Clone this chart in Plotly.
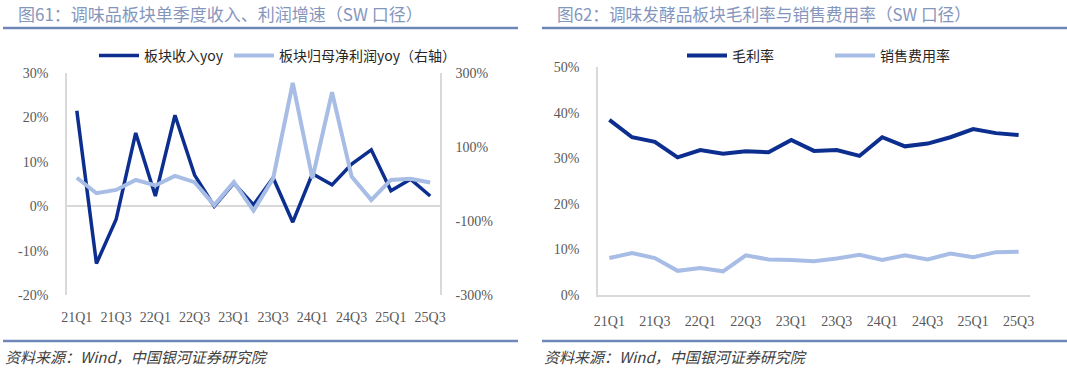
import plotly.graph_objects as go

quarters = ["21Q1", "21Q2", "21Q3", "21Q4", "22Q1", "22Q2", "22Q3", "22Q4",
            "23Q1", "23Q2", "23Q3", "23Q4", "24Q1", "24Q2", "24Q3", "24Q4",
            "25Q1", "25Q2", "25Q3"]
tick_labels = ["21Q1", "21Q3", "22Q1", "22Q3", "23Q1", "23Q3", "24Q1", "24Q3", "25Q1", "25Q3"]
left_ticks = [-20, -10, 0, 10, 20, 30]
left_tick_text = ["-20%", "-10%", "0%", "10%", "20%", "30%"]
right_ticks = [-300, -100, 100, 300]
right_tick_text = ["-300%", "-100%", "100%", "300%"]

# Figure 61: revenue yoy (left axis, %) and net profit yoy (right axis, %)
revenue_yoy = [21.5, -12.9, -3.0, 16.5, 2.3, 20.5, 7.0, 0.0, 5.2, 0.3,
               6.4, -3.6, 7.3, 4.8, 9.5, 12.7, 3.5, 6.1, 2.3]
profit_yoy = [17, -25, -16, 11, -4, 22, 5, -57, 5, -72,
              15, 273, 15, 248, 20, -43, 11, 14, 4]

# Figure 62: gross margin and selling expense ratio (%)
gross_margin = [38.4, 34.6, 33.6, 30.2, 31.8, 31.0, 31.5, 31.3, 34.0, 31.6,
                31.8, 30.5, 34.6, 32.6, 33.2, 34.6, 36.4, 35.5, 35.1]
selling_ratio = [8.1, 9.2, 8.1, 5.3, 5.9, 5.2, 8.7, 7.8, 7.7, 7.4,
                 8.0, 8.8, 7.7, 8.7, 7.8, 9.1, 8.3, 9.4, 9.5]

DARK = "#0c2e8e"
LIGHT = "#a8bde6"
AXIS = "#d9d9d9"
TICK = "#595959"
SEP = "#6f87b8"
W, H = 1067, 372

NUM_FONT = "Liberation Serif, Noto Sans CJK SC, serif"
CJK_FONT = "Noto Sans CJK SC, Liberation Serif, sans-serif"

fig = go.Figure()

fig.add_trace(go.Scatter(x=quarters, y=revenue_yoy, name="板块收入yoy", mode="lines",
                         line=dict(color=DARK, width=3.5), xaxis="x", yaxis="y",
                         legend="legend"))
fig.add_trace(go.Scatter(x=quarters, y=profit_yoy, name="板块归母净利润yoy（右轴）", mode="lines",
                         line=dict(color=LIGHT, width=4), xaxis="x", yaxis="y2",
                         legend="legend2"))
fig.add_trace(go.Scatter(x=quarters, y=gross_margin, name="毛利率", mode="lines",
                         line=dict(color=DARK, width=4), xaxis="x2", yaxis="y3",
                         legend="legend3"))
fig.add_trace(go.Scatter(x=quarters, y=selling_ratio, name="销售费用率", mode="lines",
                         line=dict(color=LIGHT, width=4), xaxis="x2", yaxis="y3",
                         legend="legend4"))

def px_x(p):
    return p / W

def px_y(p):
    return 1 - p / H

tickfont = dict(family=NUM_FONT, size=14, color=TICK)

xcommon = dict(type="category", categoryorder="array", categoryarray=quarters,
               range=[-0.5, 18.5], tickmode="array", tickvals=tick_labels, ticktext=tick_labels,
               ticks="", tickfont=tickfont, showgrid=False, zeroline=False,
               ticklabelstandoff=12, fixedrange=True)

def legend_at(x_text):
    return dict(orientation="h", x=px_x(x_text - 46), y=px_y(56), xanchor="left",
                yanchor="middle", font=dict(family=CJK_FONT, size=14, color="#262626"),
                bgcolor="rgba(0,0,0,0)", itemwidth=40)

fig.update_layout(
    width=W, height=H,
    margin=dict(l=0, r=0, t=0, b=0, autoexpand=False),
    paper_bgcolor="white", plot_bgcolor="white",
    xaxis=dict(domain=[px_x(67), px_x(440)], anchor="y", showline=False, **xcommon),
    yaxis=dict(domain=[px_y(295), px_y(73)], range=[-20, 30],
               tickmode="array", tickvals=left_ticks, ticktext=left_tick_text,
               tickfont=tickfont, showgrid=False,
               zeroline=True, zerolinecolor=AXIS, zerolinewidth=1.5,
               showline=True, linecolor=AXIS, linewidth=1.5, ticks="",
               ticklabelstandoff=14, anchor="x", fixedrange=True),
    yaxis2=dict(overlaying="y", side="right", anchor="x", range=[-300, 300],
                tickmode="array", tickvals=right_ticks, ticktext=right_tick_text,
                tickfont=tickfont,
                showgrid=False, zeroline=False, showline=True, linecolor=AXIS,
                linewidth=1.5, ticks="", ticklabelstandoff=11, fixedrange=True),
    xaxis2=dict(domain=[px_x(598), px_x(1030)], anchor="y3", showline=True,
                linecolor=AXIS, linewidth=1.5, **xcommon),
    yaxis3=dict(domain=[px_y(295), px_y(67)], anchor="x2", range=[0, 50], dtick=10,
                ticksuffix="%", tickfont=tickfont, showgrid=False, zeroline=False,
                showline=True, linecolor=AXIS, linewidth=1.5, ticks="",
                ticklabelstandoff=14, fixedrange=True),
    legend=legend_at(140),
    legend2=legend_at(275),
    legend3=legend_at(728),
    legend4=legend_at(876),
    showlegend=True,
)

titles = [
    (px_x(16), "图61：调味品板块单季度收入、利润增速（SW 口径）", 17),
    (px_x(555), "图62：调味发酵品板块毛利率与销售费用率（SW 口径）", 16.7),
]
annotations = []
for x, t, s in titles:
    annotations.append(dict(text=t, x=x, y=px_y(14), xref="paper", yref="paper",
                            xanchor="left", yanchor="middle", showarrow=False,
                            font=dict(family=CJK_FONT, size=s, color="#8596bd")))
for x in (px_x(3), px_x(542)):
    annotations.append(dict(text="<i>资料来源：Wind，中国银河证券研究院</i>", x=x, y=px_y(356),
                            xref="paper", yref="paper", xanchor="left", yanchor="middle",
                            showarrow=False,
                            font=dict(family=CJK_FONT, size=15, color="#404040")))
fig.update_layout(annotations=annotations)

shapes = []
for x0, x1 in ((3, 518), (542, 1067)):
    for yy in (28, 341):
        shapes.append(dict(type="line", xref="paper", yref="paper",
                           x0=px_x(x0), x1=px_x(x1), y0=px_y(yy), y1=px_y(yy),
                           line=dict(color=SEP, width=2.5)))
fig.update_layout(shapes=shapes)

fig.write_html("out.html", config={"displayModeBar": False},
               post_script="document.body.style.margin='0';document.body.style.overflow='hidden';")
